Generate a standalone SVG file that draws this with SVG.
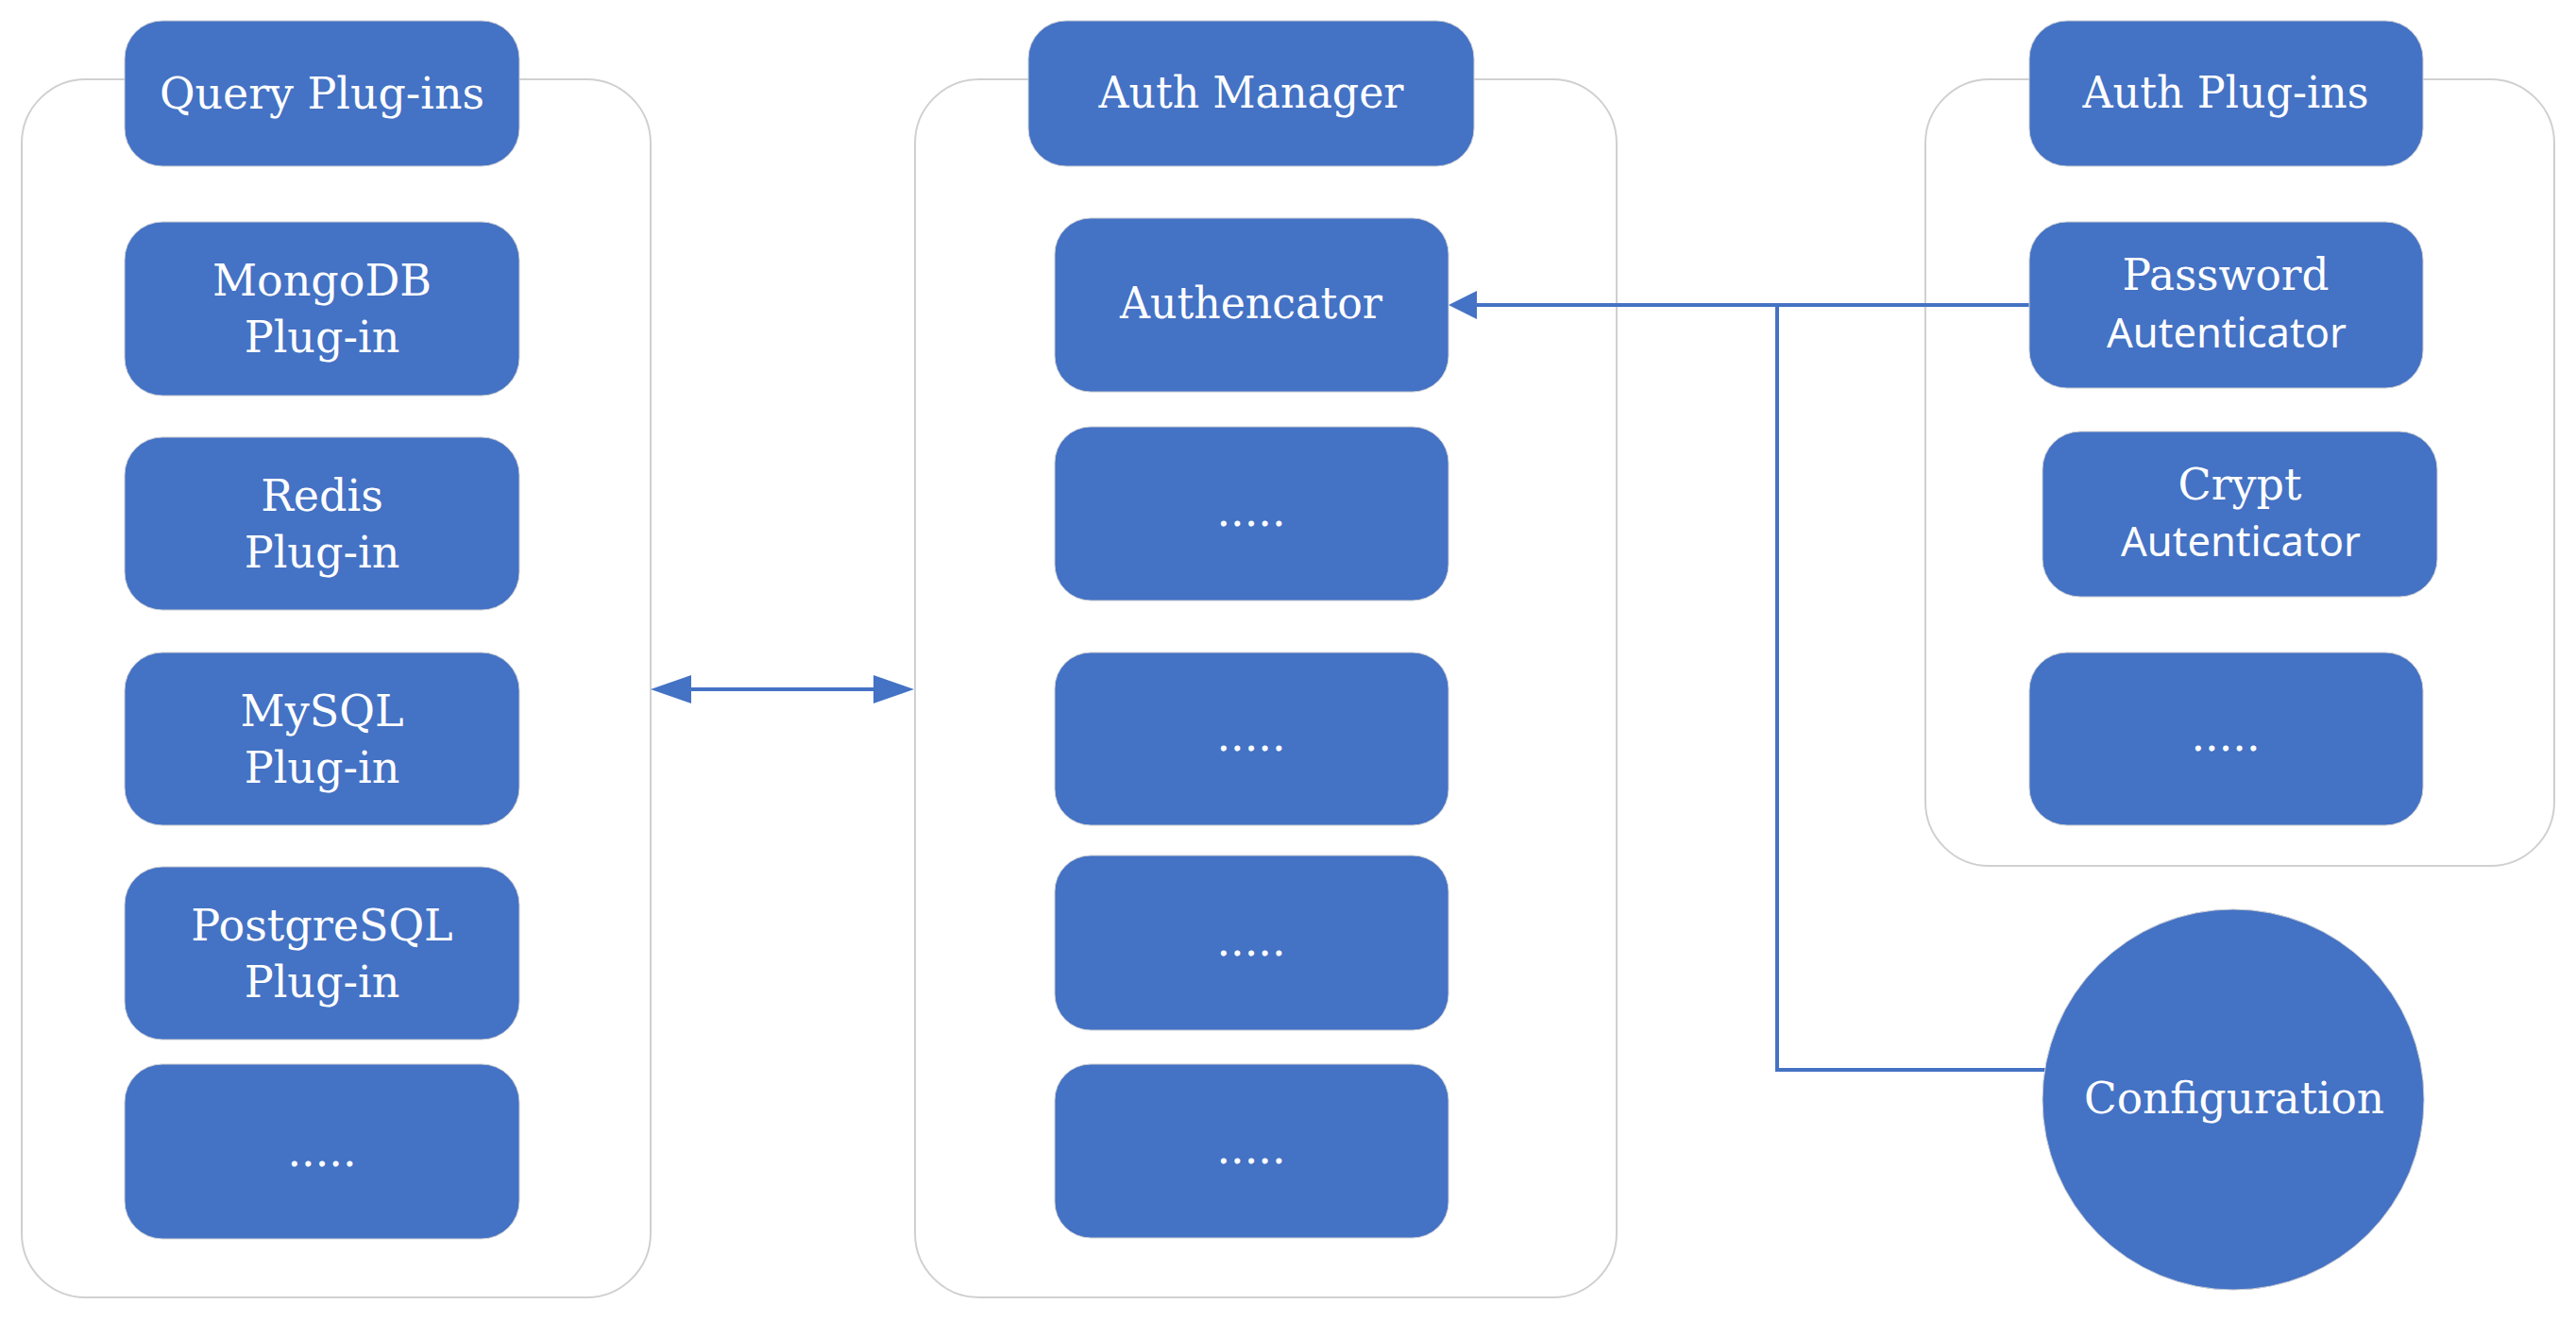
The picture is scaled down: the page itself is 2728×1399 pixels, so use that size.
<svg xmlns="http://www.w3.org/2000/svg" width="2728" height="1399" viewBox="0 0 2728 1399">
<defs>
<style>
.cont{fill:#ffffff;stroke:#d0d0d0;stroke-width:2}
.box{fill:#4472c4;stroke:#c9ccd3;stroke-width:1}
.t{fill:#ffffff;font-family:"DejaVu Serif","Liberation Serif",serif;font-size:46px;text-anchor:middle}
.s{fill:#ffffff;font-family:"Noto Sans","Open Sans","Liberation Sans",sans-serif;font-size:43px;text-anchor:middle}
.conn{fill:none;stroke:#4472c4;stroke-width:4}
</style>
<marker id="ahBig" markerUnits="userSpaceOnUse" markerWidth="43" markerHeight="30" refX="0" refY="15" orient="auto-start-reverse">
<path d="M0,0 L43,15 L0,30 z" fill="#4472c4"/>
</marker>
<marker id="ahSmall" markerUnits="userSpaceOnUse" markerWidth="30" markerHeight="30" refX="0" refY="15" orient="auto">
<path d="M0,0 L30,15 L0,30 z" fill="#4472c4"/>
</marker>
</defs>
<rect width="2728" height="1399" fill="#ffffff"/>

<g id="query-container">
<rect class="cont" x="23" y="84" width="666" height="1290" rx="68" ry="68"/>
</g>
<g id="auth-manager-container">
<rect class="cont" x="969" y="84" width="743" height="1290" rx="68" ry="68"/>
</g>
<g id="auth-plugins-container">
<rect class="cont" x="2039" y="84" width="666" height="833" rx="68" ry="68"/>
</g>

<g id="connectors">
<path class="conn" d="M732,730 H925" marker-start="url(#ahBig)" marker-end="url(#ahBig)"/>
<path class="conn" d="M2149,323 H1564" marker-end="url(#ahSmall)"/>
<path class="conn" d="M2166,1133 H1882 V323"/>
</g>

<g id="query-plugins">
<rect class="box" x="132" y="22" width="418" height="154" rx="40" ry="40"/>
<text class="t" x="341" y="115" textLength="344" lengthAdjust="spacingAndGlyphs">Query Plug-ins</text>
</g>
<g id="mongodb-plugin">
<rect class="box" x="132" y="235" width="418" height="184" rx="40" ry="40"/>
<text class="t" x="341" y="313">MongoDB</text>
<text class="t" x="341" y="373">Plug-in</text>
</g>
<g id="redis-plugin">
<rect class="box" x="132" y="463" width="418" height="183" rx="40" ry="40"/>
<text class="t" x="341" y="541">Redis</text>
<text class="t" x="341" y="601">Plug-in</text>
</g>
<g id="mysql-plugin">
<rect class="box" x="132" y="691" width="418" height="183" rx="40" ry="40"/>
<text class="t" x="341" y="769">MySQL</text>
<text class="t" x="341" y="829">Plug-in</text>
</g>
<g id="postgresql-plugin">
<rect class="box" x="132" y="918" width="418" height="183" rx="40" ry="40"/>
<text class="t" x="341" y="996">PostgreSQL</text>
<text class="t" x="341" y="1056">Plug-in</text>
</g>
<g id="query-more">
<rect class="box" x="132" y="1127" width="418" height="185" rx="40" ry="40"/>
<text class="t" x="341" y="1235">.....</text>
</g>

<g id="auth-manager">
<rect class="box" x="1089" y="22" width="472" height="154" rx="40" ry="40"/>
<text class="t" x="1325" y="114" textLength="323" lengthAdjust="spacingAndGlyphs">Auth Manager</text>
</g>
<g id="authencator">
<rect class="box" x="1117" y="231" width="417" height="184" rx="38" ry="38"/>
<text class="t" x="1325" y="337" textLength="278" lengthAdjust="spacingAndGlyphs">Authencator</text>
</g>
<g id="manager-more-1">
<rect class="box" x="1117" y="452" width="417" height="184" rx="38" ry="38"/>
<text class="t" x="1325" y="557">.....</text>
</g>
<g id="manager-more-2">
<rect class="box" x="1117" y="691" width="417" height="183" rx="38" ry="38"/>
<text class="t" x="1325" y="795">.....</text>
</g>
<g id="manager-more-3">
<rect class="box" x="1117" y="906" width="417" height="185" rx="38" ry="38"/>
<text class="t" x="1325" y="1012">.....</text>
</g>
<g id="manager-more-4">
<rect class="box" x="1117" y="1127" width="417" height="184" rx="38" ry="38"/>
<text class="t" x="1325" y="1232">.....</text>
</g>

<g id="auth-plugins">
<rect class="box" x="2149" y="22" width="417" height="154" rx="40" ry="40"/>
<text class="t" x="2357" y="114" textLength="303" lengthAdjust="spacingAndGlyphs">Auth Plug-ins</text>
</g>
<g id="password-authenticator">
<rect class="box" x="2149" y="235" width="417" height="176" rx="40" ry="40"/>
<text class="t" x="2357" y="307" textLength="219" lengthAdjust="spacingAndGlyphs">Password</text>
<text class="s" x="2358" y="368" textLength="254" lengthAdjust="spacingAndGlyphs">Autenticator</text>
</g>
<g id="crypt-authenticator">
<rect class="box" x="2163" y="457" width="418" height="175" rx="40" ry="40"/>
<text class="t" x="2372" y="529">Crypt</text>
<text class="s" x="2373" y="589" textLength="254" lengthAdjust="spacingAndGlyphs">Autenticator</text>
</g>
<g id="auth-plugins-more">
<rect class="box" x="2149" y="691" width="417" height="183" rx="40" ry="40"/>
<text class="t" x="2357" y="795">.....</text>
</g>

<g id="configuration">
<ellipse class="box" cx="2365" cy="1164.5" rx="202" ry="201.5"/>
<text class="t" x="2366" y="1179" textLength="318" lengthAdjust="spacingAndGlyphs">Configuration</text>
</g>
</svg>
